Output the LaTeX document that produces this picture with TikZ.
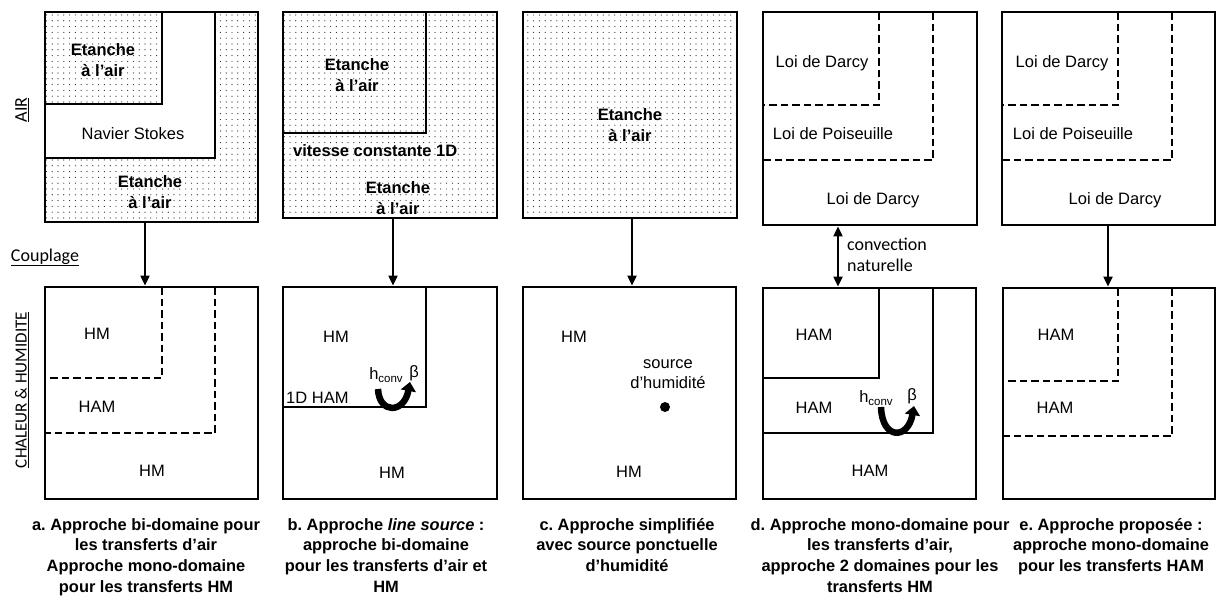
\documentclass[tikz,border=0pt]{standalone}
\usepackage{fontspec}
\setmainfont{Liberation Sans}
\newfontfamily\carl{Carlito}
\usetikzlibrary{arrows.meta,patterns.meta}
\frenchspacing
\begin{document}
\begin{tikzpicture}[x=1pt,y=-1pt,
  boxn/.style={draw,line width=2.8pt,inner sep=0pt,outer sep=1.4pt},
  wall/.style={line width=2.8pt},
  dline/.style={line width=2.6pt,dash pattern=on 7.5pt off 4pt},
  dotfill/.style={pattern={Dots[distance=5.8pt,radius=0.6pt]},pattern color=black!85},
  txt/.style={inner sep=0pt,font=\fontsize{16.5}{20.5}\selectfont},
  btxt/.style={inner sep=0pt,align=center,anchor=north,font=\bfseries\fontsize{16.5}{20.5}\selectfont},
  capt/.style={inner sep=0pt,align=center,anchor=north,font=\bfseries\fontsize{16.4}{20.7}\selectfont},
  side/.style={inner sep=0pt,font=\carl\fontsize{18}{20}\selectfont},
  link/.style={line width=2pt,-{Triangle[length=10pt,width=9pt]}},
  dlink/.style={line width=2pt,{Triangle[length=10pt,width=9pt]}-{Triangle[length=10pt,width=9pt]}},
  uarrow/.style={line width=6.5pt,-{Triangle[length=9pt,width=15pt]}}
]
\fill[white] (0,0) rectangle (1231,595);
\useasboundingbox (0,0) rectangle (1231,595);

% ---------- fills (top row) ----------
\fill[dotfill] (45,12) rectangle (258,222);
\fill[white] (45,104) -- (162,104) -- (162,12) -- (215,12) -- (215,158) -- (45,158) -- cycle;
\fill[dotfill] (283,12) rectangle (497,218);
\fill[dotfill] (523,12) rectangle (737,218);

% ---------- inner walls (top row) ----------
\draw[wall] (162,12) -- (162,104) -- (45,104);
\draw[wall] (215,12) -- (215,158) -- (45,158);
\draw[wall] (426,12) -- (426,133) -- (283,133);
\draw[dline] (879,12) -- (879,105) -- (763,105);
\draw[dline] (933,12) -- (933,160) -- (763,160);
\draw[dline] (1118,12) -- (1118,105) -- (1002,105);
\draw[dline] (1172,12) -- (1172,160) -- (1002,160);

% ---------- inner walls (bottom row) ----------
\draw[dline] (162,287) -- (162,378) -- (45,378);
\draw[dline] (215,287) -- (215,433) -- (45,433);
\draw[wall] (426,287) -- (426,407) -- (283,407);
\draw[wall] (879,288) -- (879,378) -- (763,378);
\draw[wall] (933,288) -- (933,433) -- (763,433);
\draw[dline] (1118,288) -- (1118,381) -- (1003,381);
\draw[dline] (1172,288) -- (1172,436) -- (1003,436);

% ---------- boxes ----------
\node[boxn,minimum width=213pt,minimum height=210pt] (aT) at (151.5,117) {};
\node[boxn,minimum width=214pt,minimum height=206pt] (bT) at (390,115) {};
\node[boxn,minimum width=214pt,minimum height=206pt] (cT) at (630,115) {};
\node[boxn,minimum width=214pt,minimum height=213pt] (dT) at (870,118.5) {};
\node[boxn,minimum width=213pt,minimum height=213pt] (eT) at (1108.5,118.5) {};
\node[boxn,minimum width=213pt,minimum height=212pt] (aB) at (151.5,393) {};
\node[boxn,minimum width=214pt,minimum height=212pt] (bB) at (390,393) {};
\node[boxn,minimum width=213pt,minimum height=212pt] (cB) at (629.5,393) {};
\node[boxn,minimum width=213pt,minimum height=211pt] (dB) at (869.5,393.5) {};
\node[boxn,minimum width=212pt,minimum height=211pt] (eB) at (1109,393.5) {};

% ---------- connectors ----------
\coordinate (xa) at (145,0);
\coordinate (xb) at (393,0);
\coordinate (xc) at (632,0);
\coordinate (xd) at (838,0);
\coordinate (xe) at (1108,0);
\draw[link] (xa |- aT.south) -- (xa |- aB.north);
\draw[link] (xb |- bT.south) -- (xb |- bB.north);
\draw[link] (xc |- cT.south) -- (xc |- cB.north);
\draw[dlink] (xd |- dT.south) -- (xd |- dB.north);
\draw[link] (xe |- eT.south) -- (xe |- eB.north);

% ---------- texts top row ----------
\node[btxt] (a1) at (103,43.5) {Etanche\\à l’air};
\node[txt,anchor=base] (a2) at (133,139) {Navier Stokes};
\node[btxt] (a3) at (150,175.5) {Etanche\\à l’air};
\node[btxt] (b1) at (357,58.5) {Etanche\\à l’air};
\node[txt,anchor=base west,font=\bfseries\fontsize{16.5}{20.5}\selectfont] (b2) at (293,156) {vitesse constante 1D};
\node[btxt] (b3) at (398,181.5) {Etanche\\à l’air};
\node[btxt] (c1) at (630,108.5) {Etanche\\à l’air};
\node[txt,anchor=base] (d1) at (822,67) {Loi de Darcy};
\node[txt,anchor=base] (d2) at (833,139) {Loi de Poiseuille};
\node[txt,anchor=base] (d3) at (873,204) {Loi de Darcy};
\node[txt,anchor=base] (e1) at (1062,67) {Loi de Darcy};
\node[txt,anchor=base] (e2) at (1073,139) {Loi de Poiseuille};
\node[txt,anchor=base] (e3) at (1115,204) {Loi de Darcy};

% ---------- texts bottom row ----------
\node[txt,anchor=base] (ab1) at (97,339) {HM};
\node[txt,anchor=base] (ab2) at (97,412) {HAM};
\node[txt,anchor=base] (ab3) at (152,476) {HM};

\node[txt,anchor=base] (bb1) at (336,342) {HM};
\node[txt,anchor=base west] (bb2) at (286,403) {1D HAM};
\node[txt,anchor=base] (bb3) at (386,379) {h\raisebox{-3.5pt}{\fontsize{11.5}{12}\selectfont conv}};
\node[txt,anchor=base] (bb4) at (414,377) {β};
\node[txt,anchor=base] (bb5) at (392,478) {HM};
\draw[uarrow] (378,389) .. controls (379,414) and (404,414) .. (410,382);

\node[txt,anchor=base] (cb1) at (574,342) {HM};
\node[txt,anchor=north,align=center] (cb2) at (668,359) {source\\d’humidité};
\fill (665,407) circle (5pt);
\node[txt,anchor=base] (cb3) at (629,477) {HM};

\node[txt,anchor=base] (db1) at (814,340) {HAM};
\node[txt,anchor=base] (db2) at (814,413) {HAM};
\node[txt,anchor=base] (db3) at (870,476) {HAM};
\node[txt,anchor=base] (db4) at (876,402) {h\raisebox{-3.5pt}{\fontsize{11.5}{12}\selectfont conv}};
\node[txt,anchor=base] (db5) at (912,400) {β};
\draw[uarrow] (881,407) .. controls (882,440) and (908,440) .. (914,406);

\node[txt,anchor=base] (eb1) at (1056,340) {HAM};
\node[txt,anchor=base] (eb2) at (1055,413) {HAM};

\node[side,anchor=north west,align=left,font=\carl\fontsize{18}{21}\selectfont] (conv) at (847,238) {convection\\naturelle};

% ---------- side labels ----------
\node[side,rotate=90] (air) at (22,110) {\underline{AIR}};
\node[side,anchor=base] (coup) at (45,261) {\underline{Couplage}};
\node[side,rotate=90,font=\carl\fontsize{17}{20}\selectfont] (ch) at (22,390) {\underline{CHALEUR \& HUMIDITE}};

% ---------- captions ----------
\node[capt] (ca) at (146,518) {a. Approche bi-domaine pour\\les transferts d’air\\Approche mono-domaine\\pour les transferts HM};
\node[capt] (cbc) at (386,518) {b. Approche \textit{line source} :\\approche bi-domaine\\pour les transferts d’air et\\HM};
\node[capt] (cc) at (627,518) {c. Approche simplifiée\\avec source ponctuelle\\d’humidité};
\node[capt] (cd) at (880,518) {d. Approche mono-domaine pour\\les transferts d’air,\\approche 2 domaines pour les\\transferts HM};
\node[capt] (ce) at (1111,518) {e. Approche proposée :\\approche mono-domaine\\pour les transferts HAM};
\end{tikzpicture}
\end{document}
